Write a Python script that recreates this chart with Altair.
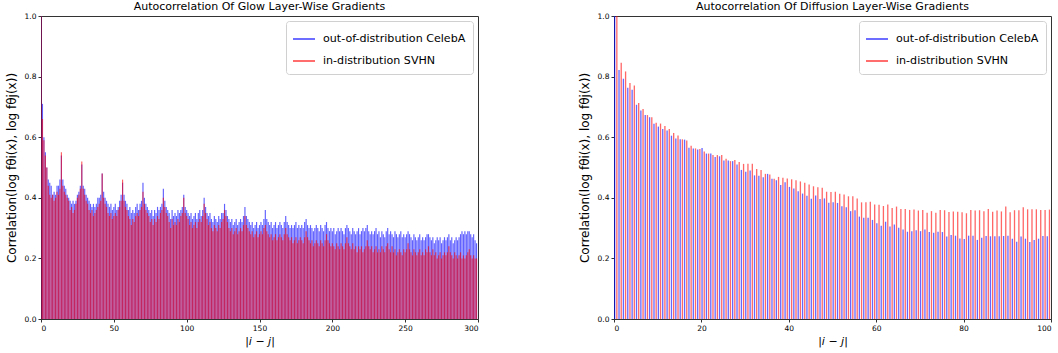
import altair as alt
import pandas as pd

# Glow: autocorrelation per lag |i-j| = 0..299
glow_celeba = [
    1.00, 0.71, 0.60, 0.55, 0.50, 0.46, 0.45, 0.44, 0.41, 0.42, 0.41, 0.44, 0.44, 0.46,
    0.54, 0.46, 0.44, 0.43, 0.41, 0.40, 0.39, 0.38, 0.39, 0.38, 0.39, 0.41, 0.42, 0.44,
    0.51, 0.44, 0.43, 0.41, 0.40, 0.39, 0.38, 0.37, 0.38, 0.37, 0.38, 0.40, 0.40, 0.41,
    0.48, 0.42, 0.40, 0.39, 0.38, 0.37, 0.38, 0.36, 0.37, 0.38, 0.36, 0.37, 0.39, 0.41,
    0.45, 0.41, 0.39, 0.38, 0.36, 0.37, 0.35, 0.36, 0.35, 0.37, 0.38, 0.36, 0.38, 0.39,
    0.45, 0.40, 0.38, 0.37, 0.36, 0.35, 0.36, 0.34, 0.36, 0.35, 0.37, 0.36, 0.37, 0.38,
    0.43, 0.39, 0.37, 0.36, 0.35, 0.33, 0.36, 0.34, 0.35, 0.34, 0.36, 0.35, 0.36, 0.37,
    0.41, 0.37, 0.36, 0.35, 0.34, 0.35, 0.33, 0.34, 0.35, 0.33, 0.35, 0.36, 0.34, 0.36,
    0.40, 0.37, 0.35, 0.34, 0.35, 0.33, 0.32, 0.34, 0.33, 0.32, 0.34, 0.33, 0.35, 0.35,
    0.38, 0.36, 0.34, 0.33, 0.32, 0.33, 0.31, 0.32, 0.33, 0.31, 0.32, 0.33, 0.32, 0.34,
    0.37, 0.34, 0.33, 0.32, 0.31, 0.32, 0.30, 0.31, 0.32, 0.30, 0.31, 0.32, 0.31, 0.33,
    0.36, 0.33, 0.32, 0.31, 0.32, 0.30, 0.31, 0.32, 0.30, 0.31, 0.32, 0.31, 0.30, 0.32,
    0.34, 0.32, 0.31, 0.30, 0.31, 0.30, 0.31, 0.32, 0.30, 0.31, 0.30, 0.31, 0.30, 0.32,
    0.33, 0.31, 0.30, 0.31, 0.30, 0.29, 0.30, 0.31, 0.30, 0.29, 0.31, 0.30, 0.29, 0.31,
    0.32, 0.30, 0.29, 0.30, 0.29, 0.30, 0.28, 0.29, 0.30, 0.29, 0.30, 0.29, 0.28, 0.30,
    0.31, 0.30, 0.29, 0.28, 0.30, 0.29, 0.28, 0.29, 0.30, 0.28, 0.29, 0.30, 0.29, 0.30,
    0.31, 0.29, 0.28, 0.29, 0.28, 0.29, 0.30, 0.28, 0.29, 0.27, 0.29, 0.28, 0.27, 0.29,
    0.30, 0.28, 0.29, 0.28, 0.27, 0.29, 0.28, 0.27, 0.28, 0.29, 0.27, 0.28, 0.27, 0.28,
    0.29, 0.28, 0.27, 0.26, 0.28, 0.27, 0.26, 0.27, 0.28, 0.26, 0.27, 0.26, 0.27, 0.28,
    0.28, 0.27, 0.26, 0.27, 0.25, 0.26, 0.27, 0.26, 0.27, 0.25, 0.26, 0.27, 0.26, 0.27,
    0.28, 0.26, 0.27, 0.25, 0.26, 0.27, 0.26, 0.27, 0.28, 0.29, 0.28, 0.29, 0.28, 0.29,
    0.29, 0.28, 0.27, 0.28, 0.26, 0.25,
]
glow_svhn = [
    1.00, 0.66, 0.59, 0.54, 0.50, 0.44, 0.41, 0.40, 0.41, 0.39, 0.40, 0.42, 0.41, 0.43,
    0.55, 0.44, 0.42, 0.41, 0.40, 0.39, 0.36, 0.37, 0.35, 0.36, 0.38, 0.40, 0.41, 0.43,
    0.52, 0.43, 0.41, 0.39, 0.38, 0.36, 0.35, 0.36, 0.34, 0.35, 0.36, 0.37, 0.38, 0.39,
    0.48, 0.40, 0.38, 0.37, 0.35, 0.34, 0.35, 0.33, 0.34, 0.35, 0.34, 0.36, 0.37, 0.39,
    0.46, 0.39, 0.37, 0.36, 0.34, 0.33, 0.31, 0.33, 0.32, 0.34, 0.35, 0.34, 0.36, 0.37,
    0.42, 0.38, 0.36, 0.35, 0.34, 0.32, 0.33, 0.31, 0.33, 0.32, 0.34, 0.33, 0.35, 0.36,
    0.40, 0.37, 0.35, 0.34, 0.32, 0.30, 0.33, 0.31, 0.32, 0.31, 0.33, 0.32, 0.34, 0.35,
    0.40, 0.35, 0.34, 0.33, 0.31, 0.32, 0.30, 0.31, 0.32, 0.30, 0.32, 0.33, 0.32, 0.34,
    0.38, 0.35, 0.33, 0.31, 0.32, 0.30, 0.29, 0.31, 0.30, 0.29, 0.31, 0.30, 0.32, 0.33,
    0.36, 0.34, 0.32, 0.30, 0.29, 0.30, 0.28, 0.29, 0.30, 0.28, 0.29, 0.30, 0.29, 0.31,
    0.34, 0.31, 0.30, 0.29, 0.28, 0.29, 0.27, 0.28, 0.29, 0.27, 0.28, 0.29, 0.28, 0.30,
    0.31, 0.29, 0.28, 0.27, 0.28, 0.26, 0.27, 0.28, 0.26, 0.27, 0.28, 0.27, 0.26, 0.28,
    0.30, 0.28, 0.27, 0.26, 0.27, 0.25, 0.26, 0.27, 0.25, 0.26, 0.27, 0.26, 0.25, 0.27,
    0.29, 0.27, 0.26, 0.25, 0.26, 0.24, 0.25, 0.26, 0.25, 0.24, 0.26, 0.25, 0.24, 0.26,
    0.28, 0.26, 0.25, 0.24, 0.25, 0.24, 0.23, 0.25, 0.24, 0.23, 0.25, 0.24, 0.23, 0.25,
    0.27, 0.25, 0.24, 0.23, 0.25, 0.23, 0.24, 0.22, 0.24, 0.23, 0.24, 0.22, 0.23, 0.24,
    0.26, 0.24, 0.23, 0.24, 0.22, 0.23, 0.24, 0.22, 0.23, 0.22, 0.24, 0.23, 0.22, 0.24,
    0.25, 0.23, 0.22, 0.24, 0.22, 0.23, 0.21, 0.22, 0.23, 0.22, 0.21, 0.23, 0.22, 0.23,
    0.25, 0.23, 0.22, 0.21, 0.23, 0.22, 0.21, 0.22, 0.23, 0.21, 0.22, 0.21, 0.23, 0.22,
    0.24, 0.22, 0.21, 0.23, 0.21, 0.22, 0.20, 0.21, 0.22, 0.20, 0.21, 0.22, 0.21, 0.22,
    0.24, 0.22, 0.21, 0.20, 0.22, 0.21, 0.20, 0.21, 0.22, 0.20, 0.21, 0.20, 0.21, 0.22,
    0.23, 0.21, 0.20, 0.21, 0.20, 0.20,
]

# Diffusion: autocorrelation per lag |i-j| = 0..99
diff_celeba = [
    1.000, 0.822, 0.793, 0.763, 0.757, 0.707, 0.688, 0.673, 0.666, 0.644,
    0.635, 0.627, 0.622, 0.605, 0.596, 0.593, 0.592, 0.565, 0.563, 0.559,
    0.564, 0.546, 0.546, 0.535, 0.537, 0.523, 0.523, 0.521, 0.510, 0.492,
    0.486, 0.490, 0.474, 0.473, 0.468, 0.479, 0.463, 0.458, 0.442, 0.451,
    0.436, 0.431, 0.422, 0.414, 0.407, 0.397, 0.408, 0.396, 0.398, 0.384,
    0.385, 0.383, 0.372, 0.369, 0.356, 0.359, 0.338, 0.334, 0.334, 0.327,
    0.316, 0.308, 0.321, 0.305, 0.312, 0.301, 0.295, 0.288, 0.290, 0.293,
    0.290, 0.295, 0.287, 0.285, 0.288, 0.287, 0.272, 0.277, 0.275, 0.266,
    0.264, 0.275, 0.275, 0.261, 0.268, 0.274, 0.273, 0.273, 0.273, 0.274,
    0.275, 0.265, 0.255, 0.272, 0.265, 0.254, 0.261, 0.265, 0.274, 0.273,
]
diff_svhn = [
    1.000, 0.846, 0.817, 0.779, 0.771, 0.713, 0.693, 0.673, 0.666, 0.648,
    0.645, 0.637, 0.627, 0.614, 0.606, 0.593, 0.589, 0.572, 0.563, 0.561,
    0.553, 0.546, 0.541, 0.541, 0.541, 0.529, 0.521, 0.525, 0.518, 0.512,
    0.512, 0.512, 0.495, 0.492, 0.479, 0.477, 0.463, 0.469, 0.466, 0.464,
    0.461, 0.458, 0.454, 0.450, 0.444, 0.438, 0.435, 0.433, 0.420, 0.419,
    0.420, 0.413, 0.411, 0.405, 0.405, 0.398, 0.385, 0.385, 0.387, 0.378,
    0.377, 0.373, 0.378, 0.366, 0.371, 0.363, 0.363, 0.360, 0.361, 0.358,
    0.360, 0.351, 0.356, 0.351, 0.360, 0.359, 0.353, 0.355, 0.354, 0.352,
    0.349, 0.360, 0.358, 0.359, 0.356, 0.363, 0.354, 0.358, 0.355, 0.371,
    0.352, 0.359, 0.359, 0.369, 0.362, 0.362, 0.362, 0.360, 0.360, 0.361,
]

OOD = "out-of-distribution CelebA"
IND = "in-distribution SVHN"
FONT = "DejaVu Sans"
Y_TITLE = "Correlation(log fθi(x), log fθj(x))"

# thin horizontal line used as the legend key
LINE_KEY = "M-1,-0.07L1,-0.07L1,0.07L-1,0.07Z"


def long_table(blue_vals, red_vals, blue_shift, red_shift):
    rows = []
    for i, v in enumerate(blue_vals):
        rows.append({"lag": i, "pos": i + blue_shift, "value": v, "series": OOD})
    for i, v in enumerate(red_vals):
        rows.append({"lag": i, "pos": i + red_shift, "value": v, "series": IND})
    return pd.DataFrame(rows)


color_scale = alt.Scale(domain=[OOD, IND], range=["#0000ff", "#ff0000"])

legend = alt.Legend(
    title=None,
    orient="top-right",
    offset=5,
    symbolType=LINE_KEY,
    symbolSize=484,
    symbolStrokeWidth=0,
    symbolOpacity=0.75,
    labelFont=FONT,
    labelFontSize=11.1,
    labelColor="#000",
    labelOffset=8,
    rowPadding=5,
    padding=7,
    fillColor="white",
    strokeColor="#d0d0d0",
    cornerRadius=3,
)


def panel(df, title, xmax, xstep, half_width, opacity):
    return (
        alt.Chart(df)
        .transform_calculate(x0=f"datum.pos - {half_width}", x1=f"datum.pos + {half_width}")
        .mark_bar(opacity=opacity, clip=True, strokeWidth=0)
        .encode(
            x=alt.X(
                "x0:Q",
                scale=alt.Scale(domain=[0, xmax], nice=False, zero=False),
                axis=alt.Axis(
                    title="|i − j|",
                    values=list(range(0, xmax + 1, xstep)),
                    titleFontStyle="italic",
                ),
            ),
            x2="x1:Q",
            y=alt.Y(
                "value:Q",
                scale=alt.Scale(domain=[0, 1], nice=False),
                axis=alt.Axis(title=Y_TITLE, values=[0, 0.2, 0.4, 0.6, 0.8, 1.0], format=".1f"),
            ),
            y2=alt.datum(0),
            color=alt.Color("series:N", scale=color_scale, legend=legend, sort=[OOD, IND]),
        )
        .properties(
            width=437,
            height=303,
            title=alt.TitleParams(title, font=FONT, fontSize=11, fontWeight="normal", offset=0, color="#000"),
        )
    )


glow = panel(long_table(glow_celeba, glow_svhn, 0.0, 0.0), "Autocorrelation Of Glow Layer-Wise Gradients",
             300, 50, 0.4, 0.62)
diffusion = panel(long_table(diff_celeba, diff_svhn, 0.15, 0.65), "Autocorrelation Of Diffusion Layer-Wise Gradients",
                  100, 20, 0.15, 0.6)

chart = (
    alt.hconcat(glow, diffusion, spacing=98)
    .resolve_scale(color="independent")
    .resolve_legend(color="independent")
    .properties(padding={"left": 4, "top": 0, "right": 2, "bottom": 2})
    .configure(font=FONT)
    .configure_view(stroke="#333", strokeWidth=1)
    .configure_axis(
        labelFont=FONT,
        labelFontSize=7.5,
        labelColor="#000",
        titleFont=FONT,
        titleFontSize=11,
        titleFontWeight="normal",
        titleColor="#000",
        domainColor="#333",
        tickColor="#333",
        tickSize=3,
        grid=False,
        labelPadding=2,
    )
    .configure_axisY(titlePadding=6, titleFontSize=12)
    .configure_axisX(titlePadding=4)
)

chart.save("out.html", embed_options={"renderer": "svg", "actions": False})
